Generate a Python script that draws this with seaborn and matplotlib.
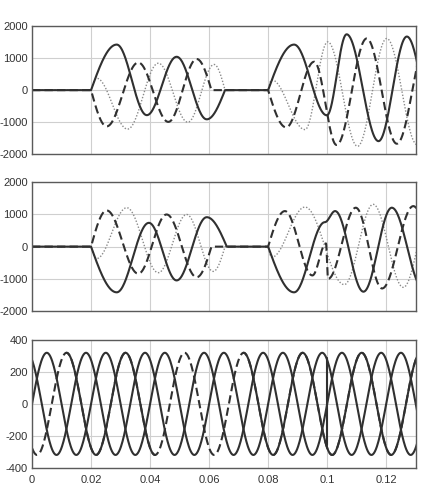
import numpy as np
import pandas as pd
import matplotlib
matplotlib.use("Agg")
import matplotlib.pyplot as plt
import seaborn as sns


# DATA (turning points: time in s, value)

# top panel
top_solid_t1 = [0.020, 0.0287, 0.0389, 0.0490, 0.0592, 0.0654]
top_solid_v1 = [0, 1420, -780, 1040, -910, 0]
top_solid_t2 = [0.080, 0.0888, 0.0999, 0.1066, 0.1174, 0.1270, 0.1375]
top_solid_v2 = [0, 1420, -785, 1740, -1590, 1670, -1600]

top_dash_t1 = [0.020, 0.0253, 0.0360, 0.0462, 0.0558, 0.0608]
top_dash_v1 = [0, -1130, 860, -990, 970, 0]
top_dash_t2 = [0.080, 0.0861, 0.0956, 0.1032, 0.1134, 0.1236, 0.1340]
top_dash_v2 = [0, -1160, 885, -1710, 1610, -1670, 1600]

top_dot_t1 = [0.020, 0.0219, 0.0324, 0.0428, 0.0528, 0.0617, 0.0654]
top_dot_v1 = [0, 370, -1215, 840, -1000, 800, 0]
top_dot_t2 = [0.080, 0.0812, 0.0925, 0.1002, 0.1103, 0.1202, 0.1305]
top_dot_v2 = [0, 320, -1230, 1505, -1750, 1610, -1700]

# middle panel
mid_solid_t1 = [0.020, 0.0287, 0.0396, 0.0490, 0.0592, 0.0660]
mid_solid_v1 = [0, -1420, 740, -1050, 915, 0]
mid_solid_t2 = [0.080, 0.0888, 0.0992, 0.1027, 0.1123, 0.1219, 0.1325]
mid_solid_v2 = [0, -1420, 760, 1105, -1400, 1210, -1300]

mid_dash_t1 = [0.020, 0.0253, 0.0360, 0.0456, 0.0558, 0.0608]
mid_dash_v1 = [0, 1125, -840, 1000, -950, 0]
mid_dash_t2 = [0.080, 0.0857, 0.0950, 0.0996, 0.1003, 0.1097, 0.1186, 0.1292, 0.1390]
mid_dash_v2 = [0, 1105, -895, 100, -1000, 1210, -1300, 1260, -1200]

mid_dot_t1 = [0.020, 0.0219, 0.0321, 0.0428, 0.0524, 0.0614, 0.0654]
mid_dot_v1 = [0, -370, 1210, -810, 1000, -770, 0]
mid_dot_t2 = [0.080, 0.0812, 0.0925, 0.1058, 0.1156, 0.1258, 0.1355]
mid_dot_v2 = [0, -330, 1230, -1180, 1315, -1265, 1300]

# bottom panel (three phases)
ph_a_t = [-0.005, 0.005, 0.015, 0.025, 0.035, 0.045, 0.055, 0.065,
          0.075, 0.085, 0.095, 0.105, 0.115, 0.125, 0.135]
ph_a_v = [-320, 320, -320, 320, -320, 320, -320, 320,
          -320, 320, -320, 320, -320, 320, -320]
ph_b_t = [-0.0083, 0.0017, 0.0117, 0.0217, 0.0317, 0.0417, 0.0517, 0.0617,
          0.0717, 0.0817, 0.0917, 0.1017, 0.1117, 0.1217, 0.1317]
ph_b_v = [320, -320, 320, -320, 320, -320, 320, -320,
          320, -320, 320, -320, 320, -320, 320]
ph_c_t = [-0.0017, 0.0083, 0.0183, 0.0283, 0.0383, 0.0483, 0.0583, 0.0683,
          0.0783, 0.0883, 0.0983, 0.1083, 0.1183, 0.1283, 0.1383]
ph_c_v = [320, -320, 320, -320, 320, -320, 320, -320,
          320, -320, 320, -320, 320, -320, 320]
# phase b is only dashed inside these windows
b_dash_from = [-0.01, 0.0417]
b_dash_to = [0.0117, 0.0717]
# step at t = 0.1
jump_t = [0.1, 0.1]
jump_v = [290, -260]

x_ticks = [0, 0.02, 0.04, 0.06, 0.08, 0.1, 0.12]
x_tick_labels = ["0", "0.02", "0.04", "0.06", "0.08", "0.1", "0.12"]
big_ticks = [-2000, -1000, 0, 1000, 2000]
small_ticks = [-400, -200, 0, 200, 400]


# STYLE

sns.set_style("whitegrid", {
    "axes.edgecolor": "#5a5a5a",
    "grid.color": "#cfcfcf",
})
plt.rcParams["font.family"] = ["Liberation Sans", "DejaVu Sans"]
plt.rcParams["font.size"] = 8

SOLID = "#303030"
DOT = "#8a8a8a"


def smooth(kt, kv, start=False, end=False, n=60):
    # half-wave shape between turning points
    xs, ys = [], []
    last = len(kt) - 2
    for i in range(len(kt) - 1):
        s = np.linspace(0, 1, n)
        if start and i == 0:
            w = np.sin(np.pi / 2 * s)
        elif end and i == last:
            w = 1 - np.cos(np.pi / 2 * s)
        else:
            w = (1 - np.cos(np.pi * s)) / 2
        x = kt[i] + (kt[i + 1] - kt[i]) * s
        y = kv[i] + (kv[i + 1] - kv[i]) * w
        if i > 0:
            x, y = x[1:], y[1:]
        xs.append(x)
        ys.append(y)
    return np.concatenate(xs), np.concatenate(ys)


def panel_curve(t1, v1, t2, v2):
    x1, y1 = smooth(t1, v1, start=True, end=True)
    x2, y2 = smooth(t2, v2, start=True)
    x = np.concatenate([[0.0], x1, x2])
    y = np.concatenate([[0.0], y1, y2])
    return pd.DataFrame({"t": x, "v": y})


def draw(ax, df, kind):
    if kind == "solid":
        kw = dict(color=SOLID, linewidth=1.5, linestyle="-")
    elif kind == "dash":
        kw = dict(color=SOLID, linewidth=1.5, linestyle=(0, (4, 2)))
    else:
        kw = dict(color=DOT, linewidth=1.0, linestyle=(0, (1, 1.3)))
    if "piece" in df:
        sns.lineplot(data=df, x="t", y="v", units="piece", estimator=None,
                     sort=False, ax=ax, **kw)
    else:
        sns.lineplot(data=df, x="t", y="v", estimator=None, sort=False,
                     ax=ax, **kw)


fig = plt.figure(figsize=(4.29, 4.92), dpi=100)
ax_top = fig.add_axes([0.0746, 0.6864, 0.8944, 0.2608])
ax_mid = fig.add_axes([0.0746, 0.3679, 0.8944, 0.2616])
ax_bot = fig.add_axes([0.0746, 0.0494, 0.8944, 0.2595])

# top
draw(ax_top, panel_curve(top_dot_t1, top_dot_v1, top_dot_t2, top_dot_v2), "dot")
draw(ax_top, panel_curve(top_dash_t1, top_dash_v1, top_dash_t2, top_dash_v2), "dash")
draw(ax_top, panel_curve(top_solid_t1, top_solid_v1, top_solid_t2, top_solid_v2), "solid")

# middle
draw(ax_mid, panel_curve(mid_dot_t1, mid_dot_v1, mid_dot_t2, mid_dot_v2), "dot")
draw(ax_mid, panel_curve(mid_dash_t1, mid_dash_v1, mid_dash_t2, mid_dash_v2), "dash")
draw(ax_mid, panel_curve(mid_solid_t1, mid_solid_v1, mid_solid_t2, mid_solid_v2), "solid")

# bottom
bt, bv = smooth(ph_b_t, ph_b_v)
in_gap = np.zeros(len(bt), dtype=bool)
for lo, hi in zip(b_dash_from, b_dash_to):
    in_gap |= (bt > lo) & (bt < hi)
draw(ax_bot, pd.DataFrame({"t": bt, "v": bv}), "dash")

piece = np.cumsum(np.r_[0, np.diff(in_gap.astype(int)) != 0])
b_solid = pd.DataFrame({"t": bt, "v": bv, "piece": piece})[~in_gap]
draw(ax_bot, b_solid, "solid")
at, av = smooth(ph_a_t, ph_a_v)
draw(ax_bot, pd.DataFrame({"t": at, "v": av}), "solid")
ct, cv = smooth(ph_c_t, ph_c_v)
draw(ax_bot, pd.DataFrame({"t": ct, "v": cv}), "solid")
draw(ax_bot, pd.DataFrame({"t": jump_t, "v": jump_v}), "solid")

for ax in [ax_top, ax_mid, ax_bot]:
    ax.set_xlim(0, 0.13)
    ax.set_xticks(x_ticks)
    ax.set_xlabel("")
    ax.set_ylabel("")
    ax.grid(True, linewidth=0.8)
    ax.tick_params(length=0, pad=3, labelsize=8, colors="#333333")
    for sp in ax.spines.values():
        sp.set_linewidth(1.0)

for ax in [ax_top, ax_mid]:
    ax.set_ylim(-2000, 2000)
    ax.set_yticks(big_ticks)
    ax.set_yticklabels([str(v) for v in big_ticks])
    ax.set_xticklabels([])

ax_bot.set_ylim(-400, 400)
ax_bot.set_yticks(small_ticks)
ax_bot.set_yticklabels([str(v) for v in small_ticks])
ax_bot.set_xticklabels(x_tick_labels)
ax_bot.tick_params(axis="x", pad=5)

fig.savefig("out.png", dpi=100)
plt.close()
